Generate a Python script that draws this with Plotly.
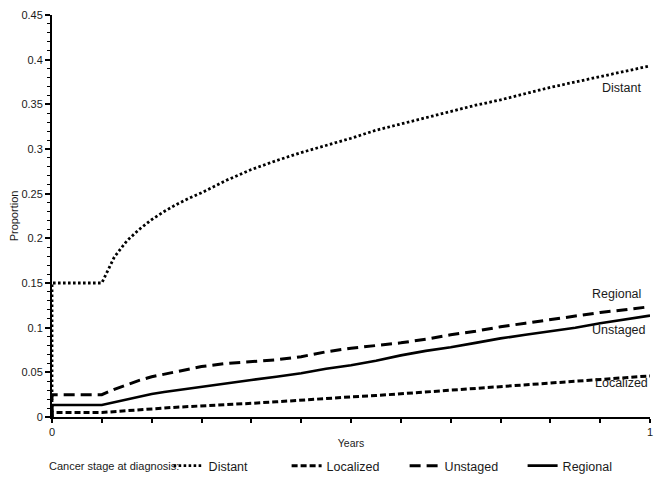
import plotly.graph_objects as go

# Time in years
times = [0, 0, 0.0833, 0.1042, 0.125, 0.1458, 0.1667, 0.1875, 0.2083, 0.2292, 0.25,
         0.2917, 0.3333, 0.375, 0.4167, 0.4583, 0.5, 0.5417, 0.5833, 0.625, 0.6667,
         0.7083, 0.75, 0.7917, 0.8333, 0.875, 0.9167, 0.9583, 1.0]

distant = [0, 0.150, 0.150, 0.179, 0.197, 0.210, 0.221, 0.230, 0.238, 0.245, 0.251,
           0.265, 0.277, 0.287, 0.296, 0.304, 0.312, 0.321, 0.328, 0.335, 0.342,
           0.349, 0.355, 0.362, 0.369, 0.375, 0.381, 0.387, 0.393]
localized = [0, 0.005, 0.005, 0.006, 0.0075, 0.0087, 0.0097, 0.0105, 0.011, 0.0117, 0.0123,
             0.014, 0.0153, 0.017, 0.019, 0.021, 0.0225, 0.024, 0.026, 0.028, 0.030,
             0.032, 0.0345, 0.036, 0.038, 0.040, 0.042, 0.044, 0.046]
unstaged = [0, 0.025, 0.025, 0.031, 0.036, 0.041, 0.045, 0.048, 0.051, 0.054, 0.0565,
            0.060, 0.062, 0.064, 0.0675, 0.073, 0.077, 0.080, 0.083, 0.087, 0.092,
            0.096, 0.101, 0.105, 0.109, 0.113, 0.117, 0.120, 0.1235]
regional = [0, 0.0135, 0.0135, 0.0165, 0.020, 0.023, 0.0257, 0.028, 0.030, 0.032, 0.034,
            0.038, 0.0414, 0.045, 0.049, 0.054, 0.058, 0.063, 0.069, 0.074, 0.078,
            0.083, 0.088, 0.092, 0.096, 0.100, 0.105, 0.109, 0.1135]

series_names = ["Distant", "Localized", "Unstaged", "Regional"]

# In-plot curve labels (text, x, y) as printed in the original
label_texts = ["Distant", "Regional", "Unstaged", "Localized"]
label_x = [0.9515, 0.944, 0.9482, 0.9515]
label_y = [0.3683, 0.1377, 0.0974, 0.0377]

legend_title = "Cancer stage at diagnosis:"

FONT = "Liberation Sans, Arial, sans-serif"
INK = "#1a1a1a"

fig = go.Figure()
styles = {
    "Distant": dict(dash="2.6px,2.4px", width=2.8),
    "Localized": dict(dash="6px,3px", width=3),
    "Unstaged": dict(dash="11px,6px", width=3),
    "Regional": dict(dash="solid", width=2.6),
}
data = {"Distant": distant, "Localized": localized, "Unstaged": unstaged, "Regional": regional}
for name in series_names:
    fig.add_trace(go.Scatter(
        x=times, y=data[name], mode="lines", name=name,
        line=dict(color="black", width=styles[name]["width"], dash=styles[name]["dash"]),
    ))

for t, x, y in zip(label_texts, label_x, label_y):
    fig.add_annotation(x=x, y=y, text=t, showarrow=False, xanchor="center", yanchor="middle",
                       font=dict(family=FONT, size=12.5, color=INK))

# legend heading
fig.add_annotation(xref="paper", yref="paper", x=-0.008, y=-0.122, xanchor="left", yanchor="middle",
                   text=legend_title, showarrow=False,
                   font=dict(family=FONT, size=11, color=INK))

# The page adds an 8px body margin, so the figure is 8px smaller on each axis
fig.update_layout(
    width=656, height=481,
    margin=dict(l=44, r=14, t=7, b=72, autoexpand=False),
    paper_bgcolor="white", plot_bgcolor="white",
    font=dict(family=FONT, size=11, color=INK),
    showlegend=True,
    legend=dict(
        orientation="h", x=0.195, xanchor="left", y=-0.122, yanchor="middle",
        font=dict(family=FONT, size=12.5, color=INK),
        entrywidth=73, itemwidth=30,
        bgcolor="rgba(0,0,0,0)",
    ),
)

fig.update_xaxes(
    range=[0, 1], showgrid=False, zeroline=False, automargin=False,
    showline=True, linecolor="black", linewidth=2,
    tickvals=[0, 1], ticktext=["0", "1"], ticks="outside", ticklen=4, tickwidth=1.5, tickcolor="black",
    minor=dict(dtick=1/12, tick0=0, ticks="outside", ticklen=4, tickwidth=1.5, tickcolor="black"),
    tickfont=dict(family=FONT, size=11, color=INK),
    title=dict(text="Years", font=dict(family=FONT, size=10.5, color=INK), standoff=2),
)
fig.update_yaxes(
    range=[0, 0.45], showgrid=False, zeroline=False, automargin=False,
    showline=True, linecolor="black", linewidth=2,
    dtick=0.05, tick0=0, ticks="outside", ticklen=5, tickwidth=1.5, tickcolor="black",
    minor=dict(dtick=0.01, ticks="outside", ticklen=3, tickwidth=1.2, tickcolor="black"),
    tickfont=dict(family=FONT, size=11, color=INK),
    title=dict(text="Proportion", font=dict(family=FONT, size=11, color=INK), standoff=4),
)

fig.write_html("out.html")
